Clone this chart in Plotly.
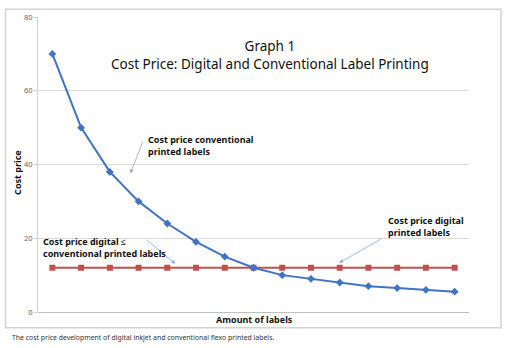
import plotly.graph_objects as go

amounts = list(range(1, 16))
conventional = [70, 50, 38, 30, 24, 19, 15, 12, 10, 9, 8, 7, 6.5, 6, 5.5]
digital = [12] * 15
y_ticks = [0, 20, 40, 60, 80]

FONT = "Noto Sans"
fig = go.Figure()
fig.add_trace(go.Scatter(x=amounts, y=digital, mode="lines+markers",
                         line=dict(color="#c0504d", width=2),
                         marker=dict(symbol="square", size=6, color="#c0504d"),
                         cliponaxis=False))
fig.add_trace(go.Scatter(x=amounts, y=conventional, mode="lines+markers",
                         line=dict(color="#3f74c5", width=2),
                         marker=dict(symbol="diamond", size=6, color="#3f74c5"),
                         cliponaxis=False))

arrow_col = "#86aadb"
def arrow(x, y, ax, ay):
    fig.add_annotation(x=x, y=y, ax=ax, ay=ay, text="", showarrow=True,
                       arrowhead=2, arrowsize=1, arrowwidth=0.8, arrowcolor=arrow_col)

arrow(3.715, 37.6, 13, -33)
arrow(5.28, 13.07, -30, -25)
arrow(10.98, 13.33, 44, -25)

lab_font = dict(family=FONT, size=9, color="#111")
def label(x, y, txt):
    fig.add_annotation(x=x, y=y, text=txt, showarrow=False, xanchor="left",
                       yanchor="middle", align="left", font=lab_font)

label(4.27, 45.07, "<b>Cost price conventional<br>printed labels</b>")
label(0.62, 17.47, "<b>Cost price digital ≤<br>conventional printed labels</b>")
label(12.61, 23.2, "<b>Cost price digital<br>printed labels</b>")

fig.add_annotation(xref="paper", yref="paper", x=(270 - 37.5) / 431.5, y=(312 - 51) / 300,
                   text="Graph 1<br>Cost Price: Digital and Conventional Label Printing",
                   showarrow=False, font=dict(family=FONT, size=13.5, color="#111"),
                   align="center", xanchor="center", yanchor="middle")
fig.add_annotation(xref="paper", yref="paper", x=(254 - 37.5) / 431.5, y=(312 - 320) / 300,
                   text="<b>Amount of labels</b>", showarrow=False,
                   font=dict(family=FONT, size=9, color="#111"), yanchor="middle")
fig.add_annotation(xref="paper", yref="paper", x=(17 - 37.5) / 431.5, y=(312 - 170) / 300,
                   text="<b>Cost price</b>", showarrow=False, textangle=-90,
                   font=dict(family=FONT, size=9, color="#111"), xanchor="center")
fig.add_annotation(xref="paper", yref="paper", x=(9 - 37.5) / 431.5, y=(312 - 338) / 300,
                   text="The cost price development of digital inkjet and conventional flexo printed labels.",
                   showarrow=False, xanchor="left", yanchor="middle",
                   font=dict(family=FONT, size=6.9, color="#333"))

fig.add_shape(type="rect", xref="paper", yref="paper",
              x0=(5 - 37.5) / 431.5, x1=(501 - 37.5) / 431.5,
              y0=(312 - 328) / 300, y1=(312 - 4) / 300,
              line=dict(color="#d4d4d4", width=1.5), layer="below")

fig.update_layout(
    width=509, height=348, showlegend=False,
    margin=dict(l=37.5, r=40, t=12, b=36),
    paper_bgcolor="white", plot_bgcolor="white",
    xaxis=dict(range=[0.5, 15.5], showticklabels=False, showgrid=False,
               zeroline=False, showline=False, ticks=""),
    yaxis=dict(range=[0, 80], tickvals=y_ticks, showgrid=True, gridcolor="#d9d9d9",
               gridwidth=1, zeroline=True, zerolinecolor="#bfbfbf", zerolinewidth=1,
               showline=True, linecolor="#d0d0d0", linewidth=1,
               ticks="outside", ticklen=3, tickcolor="#d0d0d0",
               tickfont=dict(family=FONT, size=7.5, color="#666")),
)
fig.write_html("out.html")
